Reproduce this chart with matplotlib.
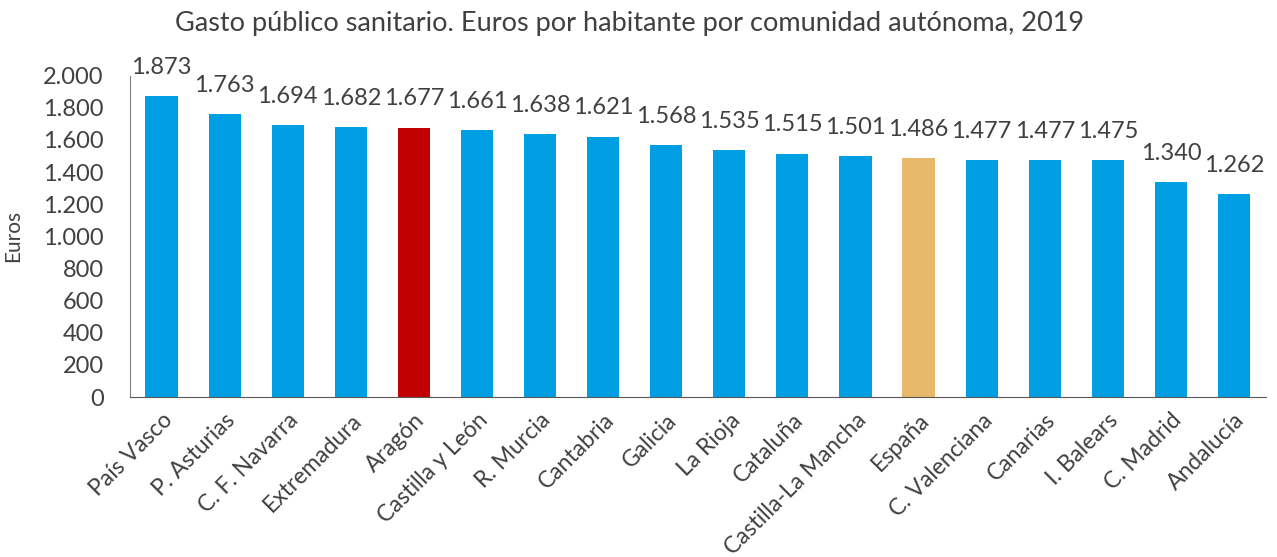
import matplotlib
matplotlib.use("Agg")
import matplotlib.pyplot as plt
from matplotlib.ticker import FuncFormatter, MultipleLocator

regiones = ["País Vasco", "P. Asturias", "C. F. Navarra", "Extremadura", "Aragón",
            "Castilla y León", "R. Murcia", "Cantabria", "Galicia", "La Rioja",
            "Cataluña", "Castilla-La Mancha", "España", "C. Valenciana", "Canarias",
            "I. Balears", "C. Madrid", "Andalucía"]
gasto = [1873, 1763, 1694, 1682, 1677, 1661, 1638, 1621, 1568, 1535,
         1515, 1501, 1486, 1477, 1477, 1475, 1340, 1262]

AZUL = "#009FE3"
ROJO = "#C00000"
ARENA = "#E8B96A"
TEXTO = "#404040"
colores = [ROJO if r == "Aragón" else ARENA if r == "España" else AZUL for r in regiones]

plt.rcParams["font.family"] = ["Lato", "DejaVu Sans"]

def miles(v, pos=None):
    return f"{int(round(v)):,}".replace(",", ".")

fig = plt.figure(figsize=(12.77, 5.57), dpi=100)
ax = fig.add_axes([130 / 1277, 1 - 397 / 557, (1265.5 - 130) / 1277, (397 - 75.6) / 557])

x = range(len(regiones))
ax.bar(x, gasto, width=0.51, color=colores)

for xi, v in zip(x, gasto):
    ax.annotate(miles(v), (xi, v), xytext=(0, 13), textcoords="offset points",
                ha="center", va="bottom", fontsize=17, color=TEXTO)

ax.set_xlim(-0.5, len(regiones) - 0.5)
ax.set_ylim(0, 2000)
ax.yaxis.set_major_locator(MultipleLocator(200))
ax.yaxis.set_major_formatter(FuncFormatter(miles))
ax.tick_params(axis="y", length=0, labelsize=17, labelcolor=TEXTO, pad=19)
ax.tick_params(axis="x", length=0, labelsize=16.5, labelcolor=TEXTO, pad=9)
ax.set_xticks(list(x))
ax.set_xticklabels(regiones, rotation=45, ha="right", rotation_mode="anchor")

for s in ("top", "right"):
    ax.spines[s].set_visible(False)
ax.spines["left"].set_color("#808080")
ax.spines["bottom"].set_color("#595959")

ax.set_ylabel("Euros", fontsize=15, color=TEXTO, labelpad=14)
fig.text(630 / 1277, 1 - 23 / 557, "Gasto público sanitario. Euros por habitante por comunidad autónoma, 2019",
         ha="center", va="center", fontsize=19.5, color=TEXTO)

fig.savefig("out.png", dpi=100)
